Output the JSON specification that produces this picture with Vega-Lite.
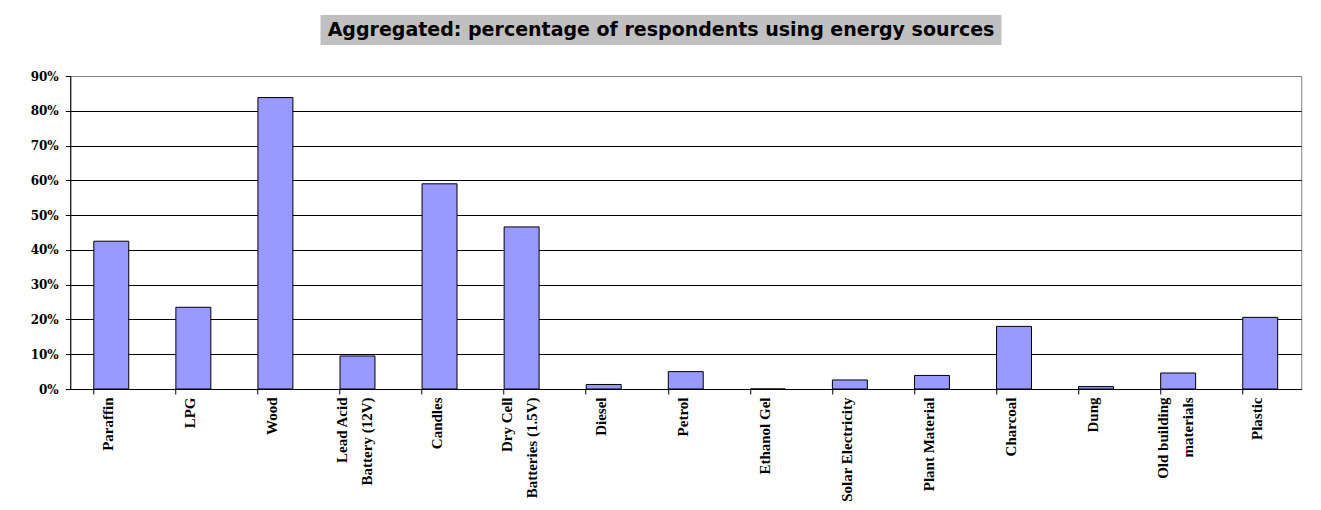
{
  "$schema": "https://vega.github.io/schema/vega-lite/v6.json",
  "background": "white",
  "padding": {"top": 15, "left": 29, "right": 10, "bottom": 5},
  "spacing": 24,
  "center": true,
  "datasets": {
    "energy": [
      {"source": "Paraffin", "pct": 42.5},
      {"source": "LPG", "pct": 23.5},
      {"source": "Wood", "pct": 83.8},
      {"source": "Lead Acid Battery (12V)", "pct": 9.5},
      {"source": "Candles", "pct": 59.0},
      {"source": "Dry Cell Batteries (1.5V)", "pct": 46.6},
      {"source": "Diesel", "pct": 1.3},
      {"source": "Petrol", "pct": 5.0},
      {"source": "Ethanol Gel", "pct": 0.0},
      {"source": "Solar Electricity", "pct": 2.6},
      {"source": "Plant Material", "pct": 3.9},
      {"source": "Charcoal", "pct": 18.0},
      {"source": "Dung", "pct": 0.7},
      {"source": "Old building materials", "pct": 4.6},
      {"source": "Plastic", "pct": 20.6}
    ],
    "heading": [
      {"title": "Aggregated: percentage of respondents using energy sources"}
    ]
  },
  "vconcat": [
    {
      "width": 681,
      "height": 30,
      "view": {"fill": "#c0c0c0", "stroke": null},
      "data": {"name": "heading"},
      "mark": {"type": "text", "font": "DejaVu Sans", "fontWeight": "bold", "fontSize": 19, "color": "black", "align": "center", "baseline": "middle"},
      "encoding": {
        "x": {"field": "title", "type": "nominal", "axis": null},
        "y": {"field": "title", "type": "nominal", "axis": {"orient": "right", "title": null, "labels": false, "ticks": false, "domain": false, "grid": false, "minExtent": 50, "maxExtent": 50}},
        "text": {"field": "title", "type": "nominal"}
      }
    },
    {
      "width": 1231,
      "height": 313,
      "view": {"stroke": "#808080", "strokeWidth": 1},
      "data": {"name": "energy"},
      "encoding": {
        "x": {
          "field": "source",
          "type": "nominal",
          "sort": null,
          "scale": {"paddingInner": 0.574, "paddingOuter": 0.287}
        },
        "y": {
          "field": "pct",
          "type": "quantitative",
          "scale": {"domain": [0, 90], "nice": false},
          "axis": {
            "title": null,
            "values": [0, 10, 20, 30, 40, 50, 60, 70, 80, 90],
            "labelExpr": "datum.value + '%'",
            "labelFont": "DejaVu Serif",
            "labelFontWeight": "bold",
            "labelFontSize": 12,
            "labelColor": "black",
            "labelPadding": 7,
            "tickSize": 5,
            "tickColor": "black",
            "domainColor": "black",
            "grid": true,
            "gridColor": {"condition": {"test": "datum.value >= 90", "value": "#808080"}, "value": "black"},
            "gridWidth": 1,
            "gridOpacity": 1
          }
        }
      },
      "layer": [
        {
          "mark": {"type": "bar", "fill": "#9999ff", "stroke": "black", "strokeWidth": 1},
          "encoding": {
            "x": {
              "field": "source",
              "type": "nominal",
              "sort": null,
              "axis": {
                "orient": "bottom",
                "title": null,
                "ticks": false,
                "domain": true,
                "domainColor": "black",
                "labelAngle": 270,
                "labelAlign": "right",
                "labelBaseline": "middle",
                "labelPadding": 8,
                "labelFont": "Liberation Serif",
                "labelFontWeight": "bold",
                "labelFontSize": 15,
                "labelColor": "black",
                "labelLineHeight": 25,
                "labelOverlap": false,
                "labelOffset": {"condition": {"test": "datum.label == 'Lead Acid Battery (12V)' || datum.label == 'Dry Cell Batteries (1.5V)' || datum.label == 'Old building materials'", "value": -15}, "value": -3},
                "labelExpr": "datum.label == 'Lead Acid Battery (12V)' ? ['Lead Acid', 'Battery (12V)'] : datum.label == 'Dry Cell Batteries (1.5V)' ? ['Dry Cell', 'Batteries (1.5V)'] : datum.label == 'Old building materials' ? ['Old building', 'materials'] : datum.label"
              }
            }
          }
        },
        {
          "mark": {"type": "bar", "opacity": 0},
          "encoding": {
            "x": {
              "field": "source",
              "type": "nominal",
              "sort": null,
              "axis": {
                "orient": "bottom",
                "title": null,
                "labels": false,
                "domain": false,
                "ticks": true,
                "tickSize": 5,
                "tickColor": "black",
                "bandPosition": 0
              }
            }
          }
        }
      ],
      "resolve": {"axis": {"x": "independent"}}
    }
  ],
  "config": {
    "axis": {"gridColor": "black"}
  }
}
